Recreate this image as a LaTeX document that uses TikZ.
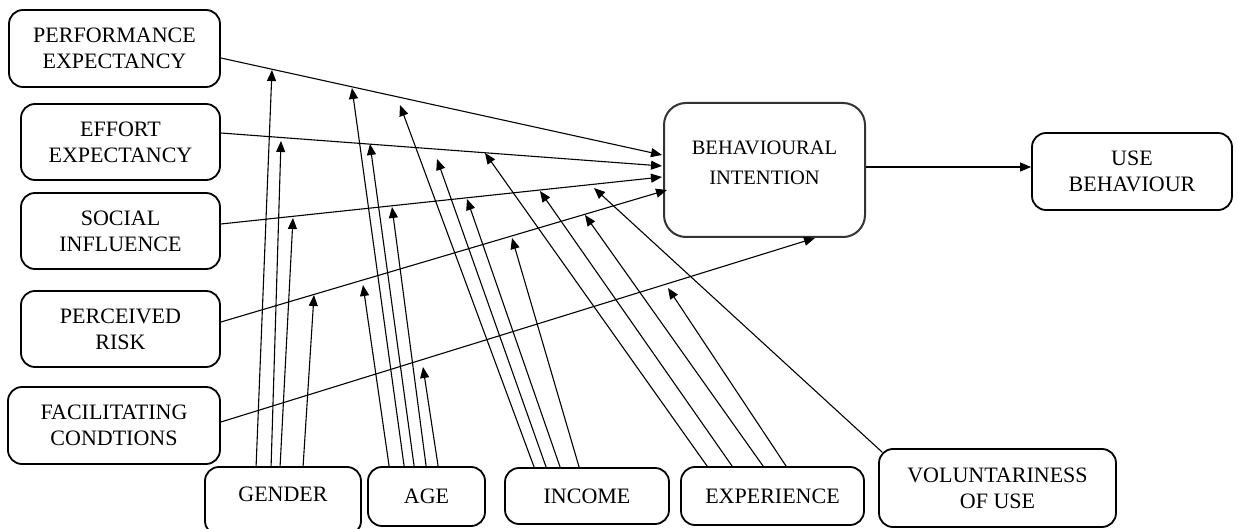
\documentclass[tikz,border=0pt]{standalone}
\usepackage{fontspec}
\setmainfont{Liberation Serif}
\usetikzlibrary{arrows.meta,calc}
\begin{document}
\begin{tikzpicture}[x=0.5pt,y=-0.5pt,
  box/.style={draw, line width=0.9pt, rounded corners=7pt, align=center, inner sep=0pt,
              font=\fontsize{11}{12.85}\selectfont},
  bibox/.style={draw=black!80, line width=1pt, rounded corners=11pt, align=center, inner sep=0pt,
              font=\fontsize{10.25}{15}\selectfont},
  conn/.style={line width=0.55pt, -{Triangle[length=5.5pt,width=4.5pt]}},
]
\useasboundingbox (0,0) rectangle (1238,529);

% construct boxes
\node[box, minimum width=105.5pt, minimum height=38.5pt] (pe) at (114.5,48.5) {PERFORMANCE\\EXPECTANCY};
\node[box, minimum width=99.5pt, minimum height=38pt] (ee) at (120.5,142) {EFFORT\\EXPECTANCY};
\node[box, minimum width=99.5pt, minimum height=38pt] (si) at (120.5,231) {SOCIAL\\INFLUENCE};
\node[box, minimum width=99.5pt, minimum height=38pt] (pr) at (120.5,329) {PERCEIVED\\RISK};
\node[box, minimum width=106pt, minimum height=38.5pt] (fc) at (114,425.5) {FACILITATING\\CONDTIONS};

% moderators
\node[box, minimum width=78pt, minimum height=34pt, text depth=7pt] (gender) at (283,501) {GENDER};
\node[box, minimum width=58.5pt, minimum height=29.5pt] (age) at (426.5,496.5) {AGE};
\node[box, minimum width=82pt, minimum height=28pt] (income) at (587,496) {INCOME};
\node[box, minimum width=91.5pt, minimum height=29pt] (exp) at (772.5,496) {EXPERIENCE};
\node[box, minimum width=118.5pt, minimum height=39pt] (vol) at (997.5,488) {VOLUNTARINESS\\OF USE};

% outcomes
\node[bibox, minimum width=100.5pt, minimum height=67pt, text depth=7pt] (bi) at (764.5,170) {BEHAVIOURAL\\INTENTION};
\node[box, minimum width=100pt, minimum height=38.5pt] (ub) at (1132,171.5) {USE\\BEHAVIOUR};

% main paths
\draw[conn] ($(pe.east)+(0,9.5)$) -- ($(bi.west)+(-1,-15)$);
\draw[conn] ($(ee.east)+(0,-9)$) -- ($(bi.west)+(-1,-4)$);
\draw[conn] ($(si.east)+(0,-7)$) -- ($(bi.west)+(-1,7)$);
\draw[conn] ($(pr.east)+(0,-7)$) -- ($(bi.west)+(4,20)$);
\draw[conn] ($(fc.east)+(0,-3.5)$) -- ($(bi.south)+(50.5,0)$);
\draw[conn] ($(bi.east)+(0,-3)$) -- ($(ub.west)+(0,-4.5)$);

% moderator targets
\coordinate (gPE) at (272,70);
\coordinate (aPE) at (352,88);
\coordinate (iPE) at (400,105);
\coordinate (gEE) at (281,141);
\coordinate (aEE) at (370,144);
\coordinate (iEE) at (437,159);
\coordinate (eEE) at (485,153);
\coordinate (gSI) at (293,218);
\coordinate (aSI) at (392,207);
\coordinate (iSI) at (467,199);
\coordinate (eSI) at (540,191);
\coordinate (vSI) at (594,188);
\coordinate (gPR) at (314,295);
\coordinate (aPR) at (363,285);
\coordinate (iPR) at (512,238);
\coordinate (ePR) at (585,215);
\coordinate (aFC) at (423,367);
\coordinate (eFC) at (668,288);

% gender
\draw[conn] ($(gender.north west)+(52,0)$) -- (gPE);
\draw[conn] ($(gender.north west)+(67,0)$) -- (gEE);
\draw[conn] ($(gender.north west)+(76,0)$) -- (gSI);
\draw[conn] ($(gender.north west)+(99,0)$) -- (gPR);
% age
\draw[conn] ($(age.north west)+(22,0)$) -- (aPR);
\draw[conn] ($(age.north west)+(37,0)$) -- (aPE);
\draw[conn] ($(age.north west)+(47,0)$) -- (aEE);
\draw[conn] ($(age.north west)+(59,0)$) -- (aSI);
\draw[conn] ($(age.north west)+(71,0)$) -- (aFC);
% income
\draw[conn] ($(income.north west)+(30,0)$) -- (iPE);
\draw[conn] ($(income.north west)+(42,0)$) -- (iEE);
\draw[conn] ($(income.north west)+(56,0)$) -- (iSI);
\draw[conn] ($(income.north west)+(75,0)$) -- (iPR);
% experience
\draw[conn] ($(exp.north west)+(27,0)$) -- (eEE);
\draw[conn] ($(exp.north west)+(52,0)$) -- (eSI);
\draw[conn] ($(exp.north west)+(83,0)$) -- (ePR);
\draw[conn] ($(exp.north west)+(106,0)$) -- (eFC);
% voluntariness
\draw[conn] ($(vol.north west)+(4,4)$) -- (vSI);
\end{tikzpicture}
\end{document}
